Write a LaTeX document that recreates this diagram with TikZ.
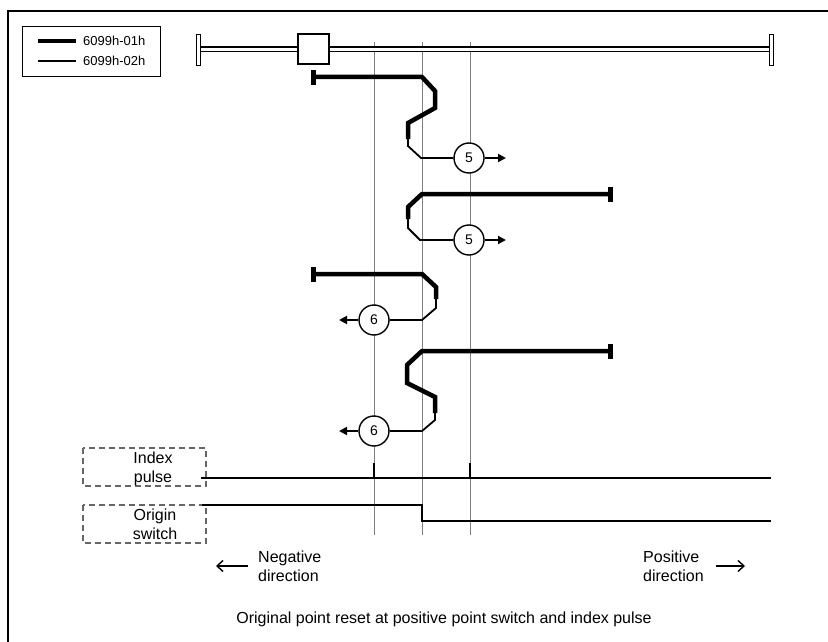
\documentclass[tikz,border=0pt]{standalone}
\usepackage{fontspec}
\setmainfont{Liberation Sans}
\usetikzlibrary{arrows.meta}
\begin{document}
\begin{tikzpicture}[x=1pt,y=-1pt,
  thickpath/.style={line width=4.5pt},
  thinpath/.style={line width=1.8pt},
  endbar/.style={line width=5pt},
  guide/.style={draw=black!50,line width=1pt},
  numcirc/.style={circle,draw,line width=1.4pt,minimum size=30pt,inner sep=0pt,fill=white,font=\fontsize{14}{16}\selectfont},
  tipline/.style={line width=1.8pt,-{Triangle[length=8pt,width=8pt]}},
  dirarrow/.style={line width=1.4pt,-{Straight Barb[length=6pt,width=11pt]}},
  lbl/.style={font=\fontsize{16}{19}\selectfont,align=center,inner sep=0pt},
  sigbox/.style={draw=black!60,dashed,dash pattern=on 6pt off 4pt,line width=1.1pt},
  sig/.style={line width=2pt}
]
\useasboundingbox (0,0) rectangle (828,642);
% frame (cropped at right and bottom)
\draw[line width=1.3pt] (8,650) -- (8,11) -- (840,11);
% legend
\node[draw,line width=1pt,minimum width=138pt,minimum height=50pt,anchor=north west,inner sep=0pt] (legend) at (22,26) {};
\coordinate (la1) at (38,41); \coordinate (la2) at (76,41);
\coordinate (lb1) at (38,61); \coordinate (lb2) at (76,61);
\draw[line width=4.5pt] (la1) -- (la2);
\draw[line width=1.8pt] (lb1) -- (lb2);
\node[anchor=west,font=\fontsize{13}{15}\selectfont,inner sep=0pt] (l1) at (83,41) {6099h-01h};
\node[anchor=west,font=\fontsize{13}{15}\selectfont,inner sep=0pt] (l2) at (83,61) {6099h-02h};
% guides
\foreach \x/\n in {374/ga,422/gb,470/gc}{
  \coordinate (\n t) at (\x,42); \coordinate (\n b) at (\x,535);
  \draw[guide] (\n t) -- (\n b);
}
% rail
\coordinate (r1) at (198,49.5); \coordinate (r2) at (771,49.5);
\draw[line width=1.2pt,double=white,double distance=3.6pt] (r1) -- (r2);
\node[draw,fill=white,line width=1pt,minimum width=4pt,minimum height=31pt,inner sep=0pt] (rl) at (198,50.5) {};
\node[draw,fill=white,line width=1pt,minimum width=4pt,minimum height=31pt,inner sep=0pt] (rr) at (771.5,50.5) {};
\node[draw,fill=white,line width=1.2pt,minimum width=31pt,minimum height=30pt,inner sep=0pt] (slider) at (313.5,49) {};
% path 1
\coordinate (p1s) at (313,77);
\draw[endbar] (313,70) -- (313,85);
\draw[thickpath] (p1s) -- (422,77) -- (435,91) -- (435,108) -- (408,123) -- (408,139);
\node[numcirc] (c1) at (469,158) {5};
\draw[thinpath] (408,138) -- (408,146) -- (421,158) -- (c1.west);
\coordinate (a1) at (506,158);
\draw[tipline] (c1.east) -- (a1);
% path 2
\draw[endbar] (610,187) -- (610,202);
\draw[thickpath] (610,194) -- (422,194) -- (408,207) -- (408,219);
\node[numcirc] (c2) at (469,240) {5};
\draw[thinpath] (408,218) -- (408,228) -- (420,240) -- (c2.west);
\coordinate (a2) at (506,240);
\draw[tipline] (c2.east) -- (a2);
% path 3
\draw[endbar] (313,267) -- (313,282);
\draw[thickpath] (313,274) -- (422,274) -- (436,287) -- (436,299);
\node[numcirc] (c3) at (374,320) {6};
\draw[thinpath] (436,298) -- (436,308) -- (422,320) -- (c3.east);
\coordinate (a3) at (339,320);
\draw[tipline] (c3.west) -- (a3);
% path 4
\draw[endbar] (610,344) -- (610,359);
\draw[thickpath] (610,351) -- (422,351) -- (407,365) -- (407,383) -- (435,397) -- (435,413);
\node[numcirc] (c4) at (374,431) {6};
\draw[thinpath] (435,412) -- (435,420) -- (422,431) -- (c4.east);
\coordinate (a4) at (339,431);
\draw[tipline] (c4.west) -- (a4);
% signal boxes
\draw[sigbox] (83,448) rectangle (206,486);
\draw[sigbox] (83,505) rectangle (206,543);
\node[lbl] (tidx) at (153,468.5) {Index\\pulse};
\node[lbl] (torg) at (155,524.5) {Origin\\switch};
% index pulse
\coordinate (ip1) at (201,478); \coordinate (ip2) at (771,478);
\draw[sig] (ip1) -- (ip2);
\draw[sig] (374,478) -- (374,463);
\draw[sig] (470,478) -- (470,463);
% origin switch
\coordinate (os1) at (202,505); \coordinate (os2) at (771,521);
\draw[sig] (os1) -- (422,505) -- (422,521) -- (os2);
% directions
\node[lbl,align=left,anchor=west] (neg) at (258,566) {Negative\\direction};
\node[lbl,align=left,anchor=west] (pos) at (643,566) {Positive\\direction};
\coordinate (na) at (216,566); \coordinate (pa) at (745,566);
\draw[dirarrow] (neg.west) ++(-10,0) -- (na);
\draw[dirarrow] (pos.east) ++(12,0) -- (pa);
% caption
\node[lbl] (cap) at (444,619) {Original point reset at positive point switch and index pulse};
\end{tikzpicture}
\end{document}
